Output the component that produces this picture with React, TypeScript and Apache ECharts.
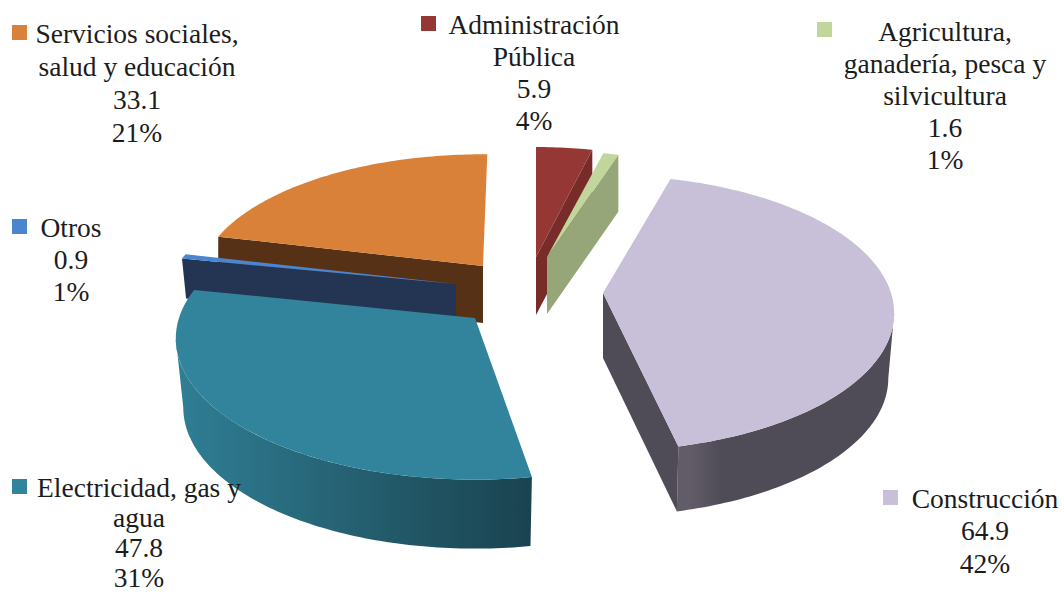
import React, { useEffect, useRef } from "react";
import * as echarts from "echarts";

// ---- data (clockwise from 12 o'clock)
const categories = [
  "Administración\nPública",
  "Agricultura,\nganadería, pesca y\nsilvicultura",
  "Construcción",
  "Electricidad, gas y\nagua",
  "Otros",
  "Servicios sociales,\nsalud y educación",
];
const values = [5.9, 1.6, 64.9, 47.8, 0.9, 33.1];
// back-to-front painting order
const drawOrder = [0, 1, 5, 4, 3, 2];

// ---- presentation only: explosion centre, radii, extrusion and colours for each slice
const geometry = [
  { cx: 536, cy: 257, R: 270, Ry: 126, depth: 58, rot: 0, bs: 1, faces: ["end"] },
  { cx: 547, cy: 257, R: 270, Ry: 122, depth: 57, rot: 0, bs: 1, faces: ["end"] },
  { cx: 603, cy: 293, R: 288, Ry: 135, depth: 65, rot: -2, bs: 0.98, faces: ["end"] },
  { cx: 475, cy: 318, R: 296, Ry: 138, depth: 69, rot: 1.5, bs: 0.975, faces: [] },
  { cx: 456, cy: 284, R: 288, Ry: 130, depth: 40, rot: 1, bs: 0.985, faces: ["start"] },
  { cx: 483, cy: 266, R: 282, Ry: 128, depth: 57, rot: 1, bs: 1, faces: ["start"] },
];
const topColors = ["#953735", "#c0d69b", "#c8bfd9", "#31849b", "#4a86d0", "#d98138"];
const faceColors = ["#772c2a", "#97a678", "#504c57", "#256374", "#233552", "#573116"];
const wallStops: [number, string][][] = [
  [[0, "#772c2a"], [1, "#772c2a"]],
  [[0, "#97a678"], [1, "#97a678"]],
  [[0, "#625c68"], [0.06, "#625c68"], [0.2, "#504c57"], [1, "#504c57"]],
  [[0, "#2f7f95"], [0.35, "#28697c"], [0.7, "#205463"], [1, "#1a4350"]],
  [[0, "#233552"], [1, "#233552"]],
  [[0, "#573116"], [1, "#573116"]],
];
const labelLayout = [
  { x: 534, y: 24, step: 32, key: [421, 16] },
  { x: 945, y: 31, step: 32, key: [817, 22] },
  { x: 985, y: 498, step: 32.5, key: [883, 490] },
  { x: 139, y: 487, step: 30.3, key: [12, 479] },
  { x: 71, y: 227, step: 32, key: [12, 219] },
  { x: 137, y: 33, step: 33, key: [12, 25] },
];
const KEY_SIZE = 15;
const PERSPECTIVE = 0.146;
const FONT = '27.5px "Liberation Serif", serif';
// the outer wall is only seen between the two silhouette angles of the ellipse
const WALL_FROM = (Math.acos(-PERSPECTIVE) * 180) / Math.PI;
const WALL_TO = 360 - WALL_FROM;

const total = values.reduce((a, b) => a + b, 0);
const startAngles: number[] = [];
values.reduce((acc, v, i) => {
  startAngles[i] = acc;
  return acc + (v / total) * 360;
}, 0);

function renderItem(_params: any, api: any) {
  const value = api.value(0);
  const i = api.value(1);
  const g = geometry[i];
  const a0 = startAngles[i] + g.rot;
  const a1 = a0 + (value / total) * 360;

  const top = (deg: number) => {
    const t = (deg * Math.PI) / 180;
    const s = 1 / (1 + PERSPECTIVE * Math.cos(t));
    return [g.cx + g.R * Math.sin(t) * s, g.cy - g.Ry * Math.cos(t) * s];
  };
  const down = (p: number[]) => [g.cx + (p[0] - g.cx) * g.bs, p[1] + g.depth];
  const arc = (from: number, to: number) => {
    const n = Math.max(2, Math.ceil(to - from));
    const pts: number[][] = [];
    for (let k = 0; k <= n; k++) pts.push(top(from + ((to - from) * k) / n));
    return pts;
  };

  const rim = arc(a0, a1);
  const apex = [g.cx, g.cy];
  const children: any[] = [];

  const w0 = Math.max(a0, WALL_FROM);
  const w1 = Math.min(a1, WALL_TO);
  if (w1 > w0) {
    const wall = arc(w0, w1);
    children.push({
      type: "polygon",
      shape: { points: [...wall, ...wall.map(down).reverse()] },
      style: {
        fill: new echarts.graphic.LinearGradient(
          0, 0, 1, 0,
          wallStops[i].map(([offset, color]) => ({ offset, color }))
        ),
      },
    });
  }
  for (const f of g.faces) {
    const p = f === "start" ? rim[0] : rim[rim.length - 1];
    children.push({
      type: "polygon",
      shape: { points: [apex, p, down(p), down(apex)] },
      style: { fill: faceColors[i] },
    });
  }
  children.push({
    type: "polygon",
    shape: { points: [apex, ...rim] },
    style: { fill: topColors[i] },
  });

  const l = labelLayout[i];
  const lines = [
    ...categories[i].split("\n"),
    value.toFixed(1),
    Math.round((value / total) * 100) + "%",
  ];
  children.push({
    type: "rect",
    z2: 100,
    shape: { x: l.key[0], y: l.key[1], width: KEY_SIZE, height: KEY_SIZE },
    style: { fill: topColors[i] },
  });
  lines.forEach((text, k) => {
    children.push({
      type: "text",
      z2: 100,
      style: {
        text,
        x: l.x,
        y: l.y + k * l.step,
        align: "center",
        verticalAlign: "middle",
        font: FONT,
        fill: "#1c1c1c",
      },
    });
  });
  return { type: "group", children };
}

export default function App() {
  const ref = useRef<HTMLDivElement>(null);
  useEffect(() => {
    const chart = echarts.init(ref.current!, null, { renderer: "svg" });
    chart.setOption({
      animation: false,
      backgroundColor: "#ffffff",
      series: [
        {
          type: "custom",
          coordinateSystem: "none",
          silent: true,
          clip: false,
          renderItem,
          data: drawOrder.map((i) => [values[i], i]),
        },
      ],
    });
    return () => chart.dispose();
  }, []);
  return (
    <div
      ref={ref}
      style={{ position: "absolute", left: 0, top: 0, width: 1064, height: 595 }}
    />
  );
}
